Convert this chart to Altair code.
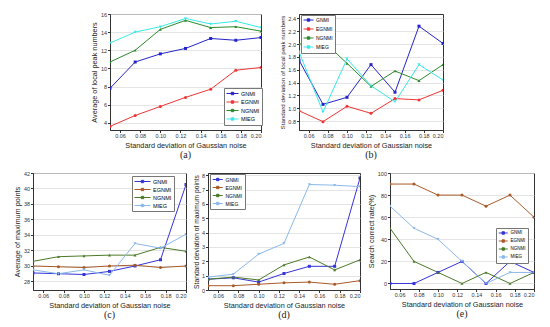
import altair as alt
import pandas as pd

# ---------------- data ----------------
x_noise = [0.05, 0.075, 0.10, 0.125, 0.15, 0.175, 0.20]
x_ticks = [0.06, 0.08, 0.10, 0.12, 0.14, 0.16, 0.18, 0.20]
series_names = ["GNMI", "EGNMI", "NGNMI", "MIEG"]

# (a) Average of local peak numbers
a_gnmi = [7.8, 10.7, 11.6, 12.2, 13.3, 13.1, 13.4]
a_egnmi = [3.6, 4.8, 5.8, 6.8, 7.7, 9.8, 10.1]
a_ngnmi = [10.7, 12.0, 14.3, 15.3, 14.5, 14.6, 14.1]
a_mieg = [12.8, 14.0, 14.6, 15.5, 14.9, 15.2, 14.5]
a_ticks = [4, 6, 8, 10, 12, 14, 16]

# (b) Standard deviation of local peak numbers
b_gnmi = [1.75, 1.06, 1.17, 1.68, 1.25, 2.28, 2.01]
b_egnmi = [0.96, 0.79, 1.03, 0.92, 1.15, 1.13, 1.28]
b_ngnmi = [2.00, 2.05, 1.70, 1.34, 1.58, 1.43, 1.68]
b_mieg = [1.88, 0.94, 1.77, 1.35, 1.10, 1.68, 1.44]
b_ticks = [0.8, 1.0, 1.2, 1.4, 1.6, 1.8, 2.0, 2.2, 2.4]

# (c) Average of maximum points
c_gnmi = [29.1, 29.0, 28.9, 29.3, 30.0, 30.8, 40.5]
c_egnmi = [30.0, 29.9, 29.8, 30.0, 30.1, 29.8, 30.0]
c_ngnmi = [30.6, 31.2, 31.3, 31.4, 31.4, 32.4, 31.9]
c_mieg = [29.5, 29.0, 29.5, 28.8, 32.9, 32.3, 34.1]
c_ticks = [28, 30, 32, 34, 36, 38, 40, 42]

# (d) Standard deviation of maximum points
d_gnmi = [0.75, 0.85, 0.55, 1.15, 1.65, 1.65, 7.8]
d_egnmi = [0.3, 0.3, 0.4, 0.5, 0.55, 0.4, 0.65]
d_ngnmi = [0.75, 0.9, 0.7, 1.75, 2.3, 1.4, 2.1]
d_mieg = [0.9, 1.1, 2.5, 3.25, 7.35, 7.3, 7.2]
d_ticks = [0, 1, 2, 3, 4, 5, 6, 7, 8]

# (e) Search correct rate (%)
e_gnmi = [0, 0, 10, 20, 0, 20, 10]
e_egnmi = [90, 90, 80, 80, 70, 80, 60]
e_ngnmi = [50, 20, 10, 0, 10, 0, 10]
e_mieg = [70, 50, 40, 20, 0, 10, 10]
e_ticks = [0, 20, 40, 60, 80, 100]

top_colors = ["#2424c8", "#f03434", "#2c8a2c", "#38e8e8"]
bot_colors = ["#3434d8", "#a85a28", "#4c7a28", "#8ab8ea"]
shapes = ["square", "circle", "triangle-up", "triangle-down"]

FONT = "Liberation Sans, Arial, sans-serif"
SERIF = "Liberation Serif, Times New Roman, serif"


def legend_symbol(w, h):
    # line segment of w px with a small square marker, in a symbol box of h px
    scale = h / 2.0
    r = -1 + w / scale
    cx = -1 + w / (2 * scale)
    q = 1.2 / scale
    return (f"M-1,0H{r:.3f}M{cx - q:.3f},{-q:.3f}H{cx + q:.3f}"
            f"V{q:.3f}H{cx - q:.3f}Z")


def make_df(vals):
    rows = []
    for name, ys in zip(series_names, vals):
        for xv, yv in zip(x_noise, ys):
            rows.append({"x": xv, "y": yv, "s": name})
    return pd.DataFrame(rows)


def panel(vals, ydom, yticks, yfmt, ytitle, tfs, cap, colors, width, height,
          lx, ly, rowpad, symw, symh, lfs):
    df = make_df(vals)
    leg = alt.Legend(
        title=None, orient="none", legendX=lx, legendY=ly,
        labelFontSize=lfs, labelFont=FONT,
        symbolType=legend_symbol(symw, symh),
        symbolSize=symh * symh, rowPadding=rowpad,
        padding=2, strokeColor="#777777", fillColor="white",
        labelOffset=2 + (symw - symh), symbolStrokeWidth=1, zindex=5,
    )
    xenc = alt.X("x:Q",
                 scale=alt.Scale(domain=[0.05, 0.20], nice=False, zero=False),
                 axis=alt.Axis(values=x_ticks, format=".2f",
                               title="Standard deviation of Gaussian noise",
                               grid=False))
    yenc = alt.Y("y:Q",
                 scale=alt.Scale(domain=ydom, nice=False, zero=False),
                 axis=alt.Axis(values=yticks, format=yfmt, title=ytitle,
                               titleFontSize=tfs, grid=True))
    cscale = alt.Scale(domain=series_names, range=colors)
    lines = alt.Chart(df).mark_line(strokeWidth=1, clip=True).encode(
        x=xenc, y=yenc,
        color=alt.Color("s:N", scale=cscale, sort=series_names, legend=leg),
    )
    layers = [lines]
    for name, shp in zip(series_names, shapes):
        layers.append(
            alt.Chart(df).transform_filter(alt.datum.s == name)
            .mark_point(filled=True, size=9, opacity=1, clip=True, shape=shp)
            .encode(x=xenc, y=yenc,
                    color=alt.Color("s:N", scale=cscale, legend=None))
        )
    return alt.layer(*layers).properties(
        width=width, height=height,
        title=alt.TitleParams(cap, orient="bottom", font=SERIF, fontSize=10,
                              fontWeight="normal", offset=2, color="#222222"),
    )


pa = panel([a_gnmi, a_egnmi, a_ngnmi, a_mieg], [3.2, 16], a_ticks, "d",
           "Average of local peak numbers", 7.3, "(a)", top_colors,
           151, 116, 114, 74, 1.5, 12, 6, 5.5)
pb = panel([b_gnmi, b_egnmi, b_ngnmi, b_mieg], [0.66, 2.47], b_ticks, ".1f",
           "Standard deviation of local peak numbers", 6.2, "(b)", top_colors,
           144, 116, 2, 1, 1, 10, 5, 5)
pc = panel([c_gnmi, c_egnmi, c_ngnmi, c_mieg], [26.9, 42], c_ticks, "d",
           "Average of maximum points", 7.3, "(c)", bot_colors,
           153, 117, 99, 3, 1, 16, 6, 5.5)
pd_ = panel([d_gnmi, d_egnmi, d_ngnmi, d_mieg], [0, 8.15], d_ticks, "d",
            "Standard deviation of maximum points", 6.7, "(d)", bot_colors,
            152, 117, 2, 1, 1, 10, 5.5, 5)
pe = panel([e_gnmi, e_egnmi, e_ngnmi, e_mieg], [-5, 100], e_ticks, "d",
           "Search correct rate(%)", 7.3, "(e)", bot_colors,
           144, 116, 106, 55, 0, 9, 4.5, 4.5)

spacer = alt.Chart(pd.DataFrame({"x": [0]})).mark_point(opacity=0).encode(
    x=alt.X("x:Q", axis=None), y=alt.Y("x:Q", axis=None)
).properties(width=40, height=116, view=alt.ViewBackground(strokeOpacity=0))


def indep(c):
    return c.resolve_scale(color="independent").resolve_legend(color="independent")


top = indep(alt.hconcat(spacer, pa, pb, spacing=16))
bottom = indep(alt.hconcat(pc, pd_, pe, spacing=5))

chart = indep(alt.vconcat(top, bottom, spacing=9)).properties(
    padding={"left": 4, "top": 3, "right": 0, "bottom": 0}
).configure_axis(
    labelFont=FONT, titleFont=FONT, labelFontSize=5.5, titleFontSize=7.3,
    titleFontWeight="normal", tickSize=2.5, tickColor="#333333",
    domainColor="#333333", labelColor="#333333", titleColor="#222222",
    gridColor="#dddddd", gridWidth=0.8, labelPadding=1, titlePadding=2,
    domainWidth=1,
).configure_view(
    stroke="#333333", strokeWidth=1
)

chart.save("out.html", embed_options={"renderer": "svg", "actions": False})
